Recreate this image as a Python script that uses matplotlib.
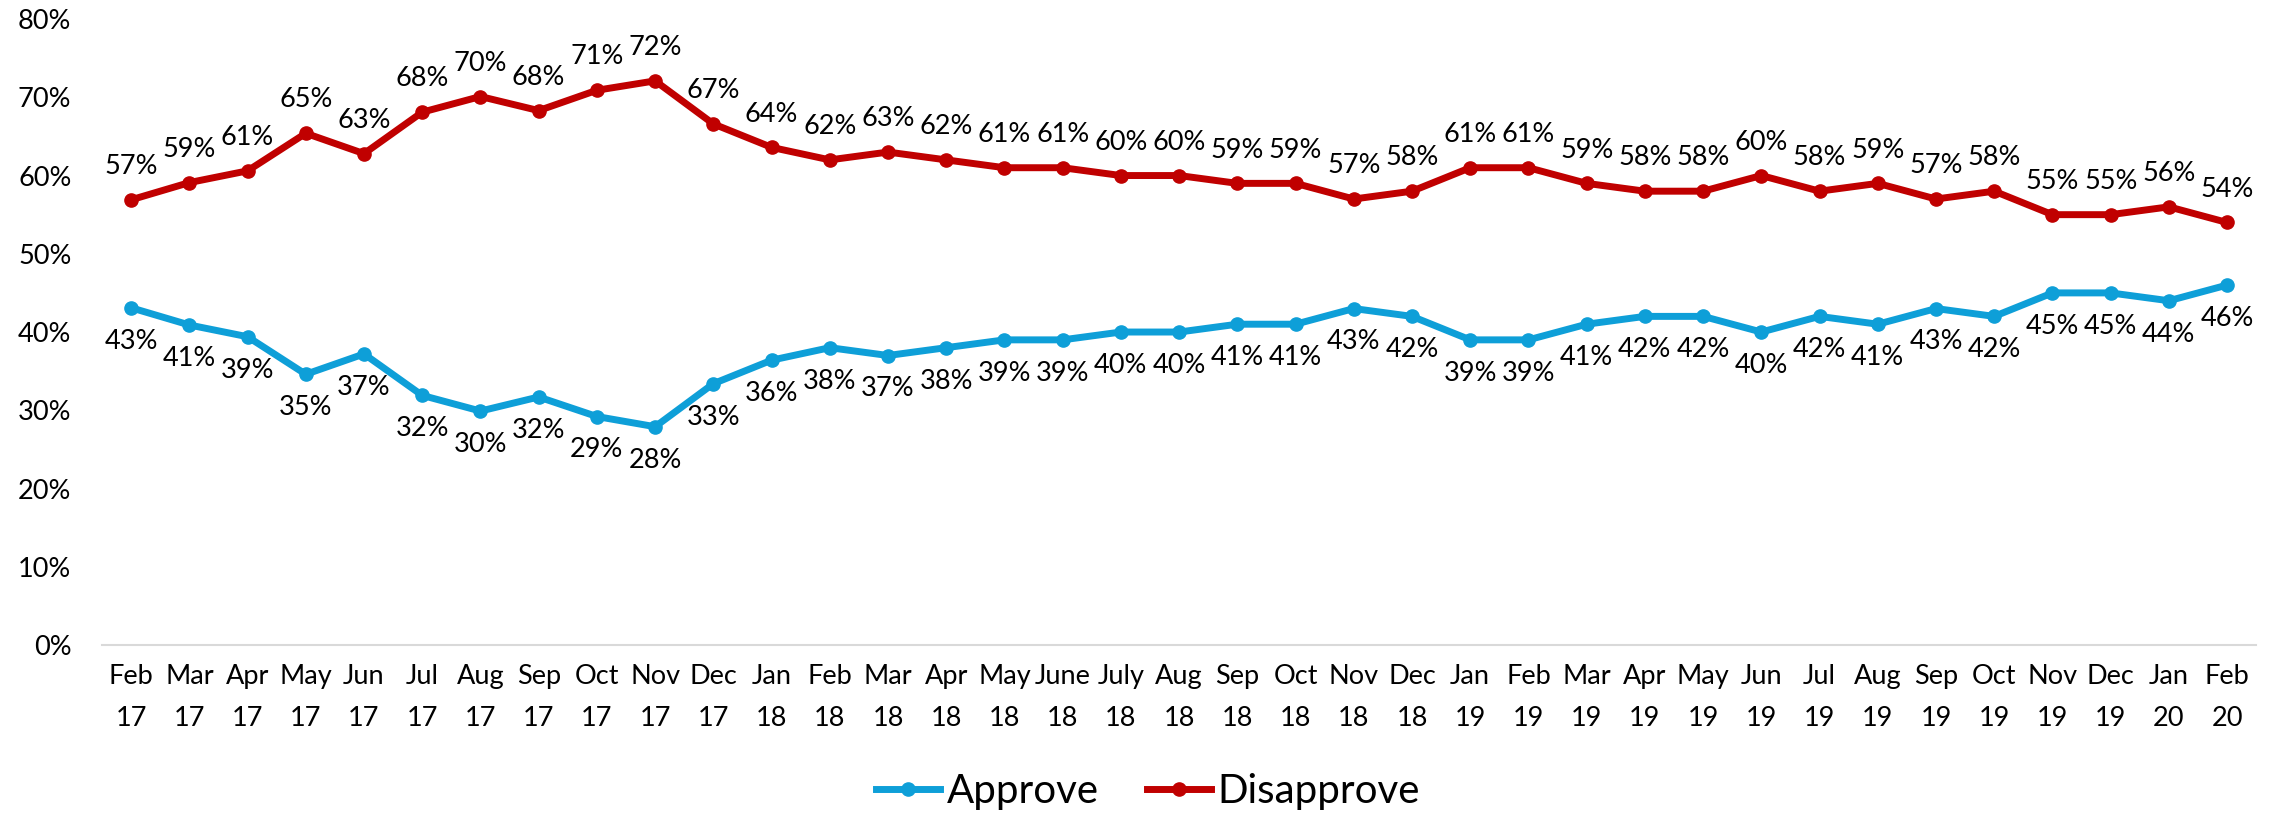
import matplotlib
matplotlib.use("Agg")
import matplotlib.pyplot as plt
from matplotlib.ticker import FuncFormatter

plt.rcParams['font.family'] = ['Lato', 'DejaVu Sans']

# months, Feb 2017 - Feb 2020
months = ["Feb\n17", "Mar\n17", "Apr\n17", "May\n17", "Jun\n17", "Jul\n17", "Aug\n17",
          "Sep\n17", "Oct\n17", "Nov\n17", "Dec\n17", "Jan\n18", "Feb\n18", "Mar\n18",
          "Apr\n18", "May\n18", "June\n18", "July\n18", "Aug\n18", "Sep\n18", "Oct\n18",
          "Nov\n18", "Dec\n18", "Jan\n19", "Feb\n19", "Mar\n19", "Apr\n19", "May\n19",
          "Jun\n19", "Jul\n19", "Aug\n19", "Sep\n19", "Oct\n19", "Nov\n19", "Dec\n19",
          "Jan\n20", "Feb\n20"]

approve = [43.1, 40.9, 39.4, 34.6, 37.2, 31.9, 29.9, 31.7, 29.2, 27.9, 33.4, 36.4,
           38, 37, 38, 39, 39, 40, 40, 41, 41, 43, 42, 39, 39, 41, 42, 42, 40, 42,
           41, 43, 42, 45, 45, 44, 46]

disapprove = [56.9, 59.1, 60.6, 65.4, 62.8, 68.1, 70.1, 68.3, 70.9, 72.1, 66.6, 63.6,
              62, 63, 62, 61, 61, 60, 60, 59, 59, 57, 58, 61, 61, 59, 58, 58, 60, 58,
              59, 57, 58, 55, 55, 56, 54]

blue = "#0E9FD8"
red = "#C00000"

fig = plt.figure(figsize=(22.82, 8.14), dpi=100)
ax = fig.add_axes([0.0447, 0.2076, 0.944, 0.769])

x = list(range(len(months)))
ax.plot(x, approve, color=blue, lw=5, marker="o", ms=9.5, label="Approve")
ax.plot(x, disapprove, color=red, lw=5, marker="o", ms=9.5, label="Disapprove")

# data labels: approve under the line, disapprove over it
for i in x:
    ax.annotate("{:.0f}%".format(approve[i]), (i, approve[i]), xytext=(0, -24),
                textcoords="offset points", ha="center", va="center", fontsize=19.5)
    ax.annotate("{:.0f}%".format(disapprove[i]), (i, disapprove[i]), xytext=(0, 24),
                textcoords="offset points", ha="center", va="center", fontsize=19.5)

ax.set_xlim(-0.5, len(months) - 0.5)
ax.set_ylim(0, 80)
ax.set_yticks(range(0, 81, 10))
ax.yaxis.set_major_formatter(FuncFormatter(lambda v, p: "{:.0f}%".format(v)))
ax.set_xticks(x)
ax.set_xticklabels(months, linespacing=1.85)
ax.tick_params(axis="both", length=0, labelsize=19.5)
ax.tick_params(axis="x", pad=14)
ax.tick_params(axis="y", pad=22)

for s in ["top", "right", "left"]:
    ax.spines[s].set_visible(False)
ax.spines["bottom"].set_color("#D9D9D9")
ax.spines["bottom"].set_linewidth(1.5)

fig.legend(loc="lower center", ncol=2, frameon=False, fontsize=29,
           bbox_to_anchor=(0.503, -0.04), handlelength=1.6, handletextpad=0.15,
           columnspacing=1.2)

fig.savefig("out.png", dpi=100)
